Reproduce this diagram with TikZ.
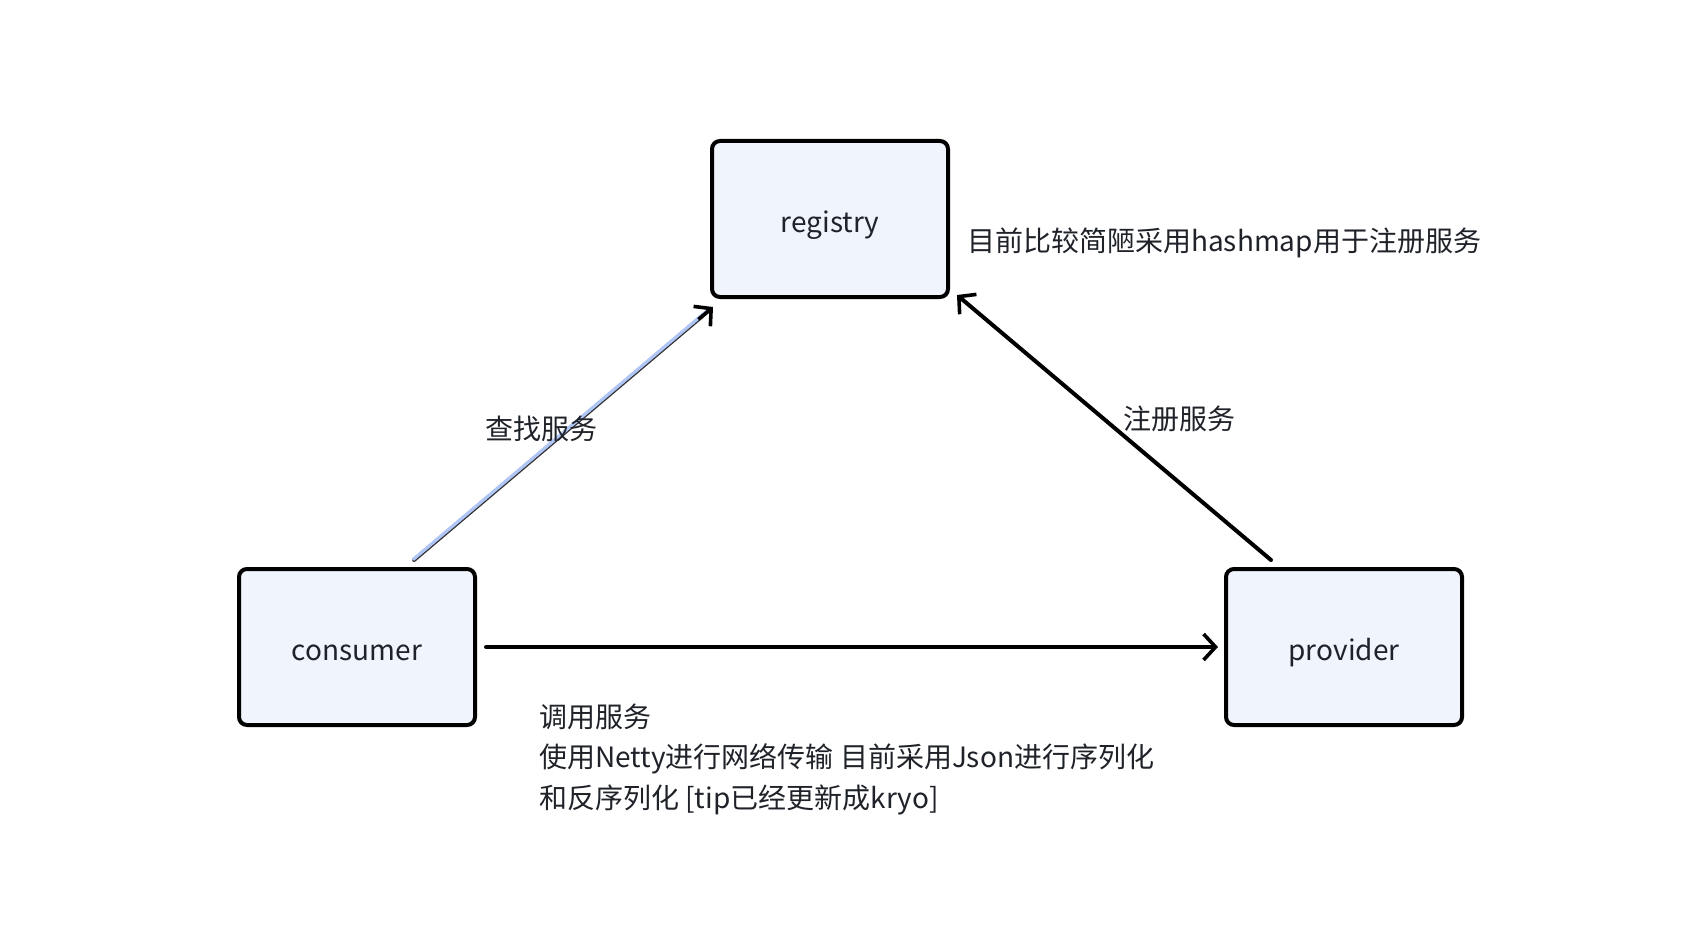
\documentclass[tikz,border=0pt]{standalone}
\usepackage{fontspec}
\setmainfont{Noto Sans CJK SC}
\usetikzlibrary{arrows.meta,calc}
\definecolor{boxfill}{HTML}{EFF4FD}
\definecolor{txt}{HTML}{1F2329}
\definecolor{selblue}{HTML}{B0C6F6}
\newcommand{\boxtext}[1]{\raisebox{-13pt}[0pt][0pt]{#1}}
\tikzset{
  box/.style={draw=black, line width=4pt, fill=boxfill, rounded corners=8pt,
    minimum width=236pt, minimum height=156pt, inner sep=0pt,
    font=\fontsize{28}{33}\selectfont, text=txt},
  lbl/.style={font=\fontsize{28}{40.5}\selectfont, text=txt, inner sep=0pt},
  tip/.style={-{Straight Barb[length=12pt,width=26pt,line width=3.6pt]}},
  arr/.style={line width=4pt, draw=black, line cap=round, tip},
}
\begin{document}
\begin{tikzpicture}[x=1pt,y=-1pt]
\useasboundingbox (0,0) rectangle (1701,939);
\fill[white] (0,0) rectangle (1701,939);
\node[box] (registry) at (830,219) {\boxtext{registry}};
\node[box] (consumer) at (357,647) {\boxtext{consumer}};
\node[box] (provider) at (1344,647) {\boxtext{provider}};
% consumer -> provider
\draw[arr, shorten <=9pt, shorten >=6pt] (consumer.east) -- (provider.west);
% consumer -> registry (selected, blue)
\coordinate (c1) at ([xshift=57pt,yshift=7pt]consumer.north);
\coordinate (r1) at ([xshift=3pt,yshift=-8pt]registry.south west);
\draw[line width=4pt, draw=black!80, line cap=round, shorten >=3pt] (c1) -- (r1);
\draw[line width=3.2pt, draw=selblue, line cap=round, shorten >=3pt] ([xshift=-0.6pt,yshift=0.7pt]c1) -- ([xshift=-0.6pt,yshift=0.7pt]r1);
\draw[line width=3.5pt, draw=black, tip, shorten <=20pt] ($(c1)!0.9!(r1)$) -- (r1);
% provider -> registry
\coordinate (p1) at ([xshift=-73pt,yshift=7pt]provider.north);
\coordinate (r2) at ([xshift=7pt,yshift=4pt]registry.south east);
\draw[arr] (p1) -- (r2);
% labels
\node[lbl, anchor=west] (note) at (967,243) {目前比较简陋采用hashmap用于注册服务};
\node[lbl] (find) at (541,429) {查找服务};
\node[lbl] (reg) at (1179,419) {注册服务};
\node[lbl, anchor=west, align=left] (call) at (539,759) {调用服务\\使用Netty进行网络传输 目前采用Json进行序列化\\和反序列化 [tip已经更新成kryo]};
\end{tikzpicture}
\end{document}
